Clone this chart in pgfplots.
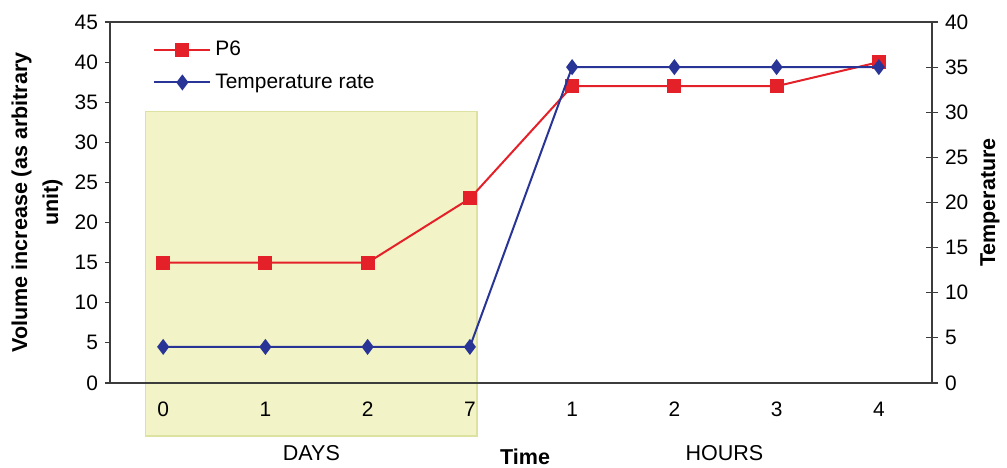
\documentclass[border=0pt]{standalone}
\usepackage{fontspec}
\setmainfont{Liberation Sans}
\usepackage{pgfplots}
\pgfplotsset{compat=1.18}

\definecolor{pred}{RGB}{228,32,40}
\definecolor{tblue}{RGB}{40,52,150}
\definecolor{dayfill}{RGB}{242,243,198}
\definecolor{dayedge}{RGB}{222,226,160}
\definecolor{axgray}{RGB}{60,60,60}

\pgfplotsset{
    chartbase/.style={
        width=411bp, height=180.5bp, scale only axis,
        xmin=-0.52, xmax=7.52, ymin=0,
        clip=false,
        axis line style={axgray, line width=0.8bp},
        tick style={axgray, line width=0.6bp},
        /pgf/number format/assume math mode=true,
        tick label style={font=\fontsize{10.5}{12}\selectfont},
    },
}

\begin{document}
\begin{tikzpicture}
% P6 on the left axis
\begin{axis}[
    chartbase,
    axis on top,
    ymax=45, ytick={0,5,...,45},
    ytick pos=left, tick align=outside, major tick length=2.5bp,
    xtick={0,...,7}, xticklabels={0,1,2,7,1,2,3,4},
    xtick style={draw=none},
    xticklabel style={yshift=-3.5bp},
    every axis y label/.style={at={(rel axis cs:0,0.5)}, xshift=-36.5bp,
        rotate=90, anchor=center, align=center,
        font=\fontsize{10.8}{15.5}\selectfont\bfseries},
    ylabel={Volume increase (as arbitrary\\unit)},
    legend style={at={(rel axis cs:0.045,0.97)}, anchor=north west,
        draw=none, fill=none, row sep=3.5bp,
        font=\fontsize{10.5}{12}\selectfont},
    legend cell align=left,
    legend image code/.code={
        \draw[mark repeat=2, mark phase=2] plot coordinates {(0bp,0bp) (14bp,0bp) (28bp,0bp)};
    },
]
% DAYS panel
\fill[dayfill, draw=dayedge, line width=0.6bp]
    (axis cs:-0.17,-6.6) rectangle (axis cs:3.07,33.8);

\addplot[pred, line width=1bp, mark=square*, mark size=3bp] coordinates {
    (0,15) (1,15) (2,15) (3,23) (4,37) (5,37) (6,37) (7,40)
};
\addlegendentry{P6}
\addlegendimage{tblue, line width=1bp, mark=diamond*, mark size=3.2bp}
\addlegendentry{Temperature rate}

\node[font=\fontsize{10.8}{12}\selectfont] at (axis cs:1.45,-8.75) {DAYS};
\node[font=\fontsize{10.8}{12}\selectfont] at (axis cs:5.49,-8.75) {HOURS};
\node[font=\fontsize{10.8}{12}\selectfont\bfseries] at (axis cs:3.54,-9.2) {Time};
\end{axis}

% temperature on the right axis
\begin{axis}[
    chartbase,
    ymax=40, ytick={0,5,...,40},
    axis x line=none, axis y line*=right,
    tick align=center, major tick length=6bp,
    every axis y label/.style={at={(rel axis cs:1,0.5)}, xshift=29bp,
        rotate=90, anchor=center,
        font=\fontsize{10.8}{12}\selectfont\bfseries},
    ylabel={Temperature},
]
\addplot[tblue, line width=1bp, mark=diamond*, mark size=3.2bp] coordinates {
    (0,4) (1,4) (2,4) (3,4) (4,35) (5,35) (6,35) (7,35)
};
\end{axis}
\pgfresetboundingbox
\path[use as bounding box] (-55bp,-42.5bp) rectangle (448.5bp,191.5bp);
\end{tikzpicture}
\end{document}
